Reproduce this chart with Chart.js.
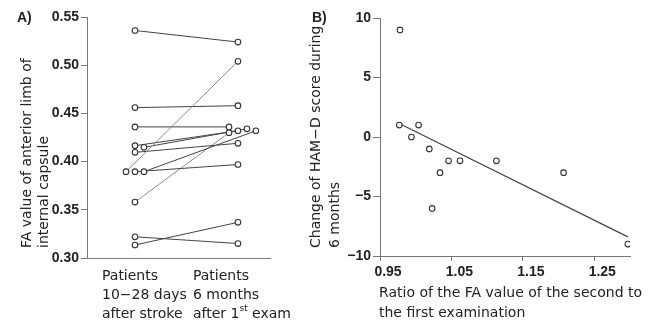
<!DOCTYPE html>
<html>
<head>
<meta charset="utf-8">
<script src="https://cdn.jsdelivr.net/npm/chart.js@4.4.1/dist/chart.umd.min.js"></script>
<style>
  body { margin: 0; background: #fff; }
  #wrap { position: relative; width: 659px; height: 322px; }
  #boxA { position: absolute; left: 0; top: 0; width: 300px; height: 322px; }
  #boxB { position: absolute; left: 300px; top: 0; width: 359px; height: 322px; }
</style>
</head>
<body>
<div id="wrap">
  <div id="boxA"><canvas id="chartA" width="300" height="322"></canvas></div>
  <div id="boxB"><canvas id="chartB" width="359" height="322"></canvas></div>
</div>
<script>
// A) FA value of each patient, first exam and 6 months later
const firstExam  = [0.536, 0.3895, 0.456, 0.436, 0.4165, 0.4148, 0.4096, 0.3895, 0.3895, 0.358, 0.322, 0.3135];
const secondExam = [0.524, 0.504, 0.458, 0.436, 0.432, 0.434, 0.419, 0.397, 0.432, 0.430, 0.315, 0.337];
// circles that overlap are set side by side (in marker widths)
const firstShift  = [0, -1, 0, 0, 0, 1, 0, 0, 1, 0, 0, 0];
const secondShift = [0, 0, 0, -1, 0, 1, 0, 0, 2, -1, 0, 0];
const faTicks = [0.30, 0.35, 0.40, 0.45, 0.50, 0.55];
const groupLabels = [
  ["Patients", "10\u221228 days", "after stroke"],
  ["Patients", "6 months", "after 1st exam"]
];

// B) ratio of FA values vs change of HAM-D
const faRatio    = [0.978, 0.977, 1.004, 0.994, 1.019, 1.046, 1.062, 1.113, 1.034, 1.023, 1.207, 1.297];
const hamdChange = [9, 1, 1, 0, -1, -2, -2, -2, -3, -6, -3, -9];
const ratioTicks = [0.95, 1.05, 1.15, 1.25];
const hamdTicks  = [-10, -5, 0, 5, 10];

const FONT = '"DejaVu Sans", Verdana, sans-serif';
const NUMFONT = '"Liberation Sans", Arial, sans-serif';
const INK = '#222';
const AXIS = '#777';
const JIT = 0.087;
const lightPairs = [1, 9];

// least squares line for panel B
const n = faRatio.length;
const mx = faRatio.reduce((a, b) => a + b, 0) / n;
const my = hamdChange.reduce((a, b) => a + b, 0) / n;
let sxy = 0, sxx = 0;
for (let i = 0; i < n; i++) {
  sxy += (faRatio[i] - mx) * (hamdChange[i] - my);
  sxx += (faRatio[i] - mx) * (faRatio[i] - mx);
}
const slope = sxy / sxx;
const x0 = Math.min(...faRatio), x1 = Math.max(...faRatio);
const fitLine = [x0, x1].map(x => ({x: x, y: my + slope * (x - mx)}));

const dotStyle = {
  pointRadius: 2.8,
  pointBorderWidth: 1.1,
  pointBorderColor: '#333',
  pointBackgroundColor: '#fff',
  showLine: false
};

const pairSets = firstExam.map((v, i) => ({
  type: 'line',
  data: [{x: 1 + firstShift[i] * JIT, y: v}, {x: 2 + secondShift[i] * JIT, y: secondExam[i]}],
  borderColor: lightPairs.includes(i) ? '#8e8e78' : '#444',
  borderWidth: 1,
  pointRadius: 0
}));

const dotsA = Object.assign({
  type: 'scatter',
  order: -1,
  data: firstExam.map((v, i) => ({x: 1 + firstShift[i] * JIT, y: v}))
    .concat(secondExam.map((v, i) => ({x: 2 + secondShift[i] * JIT, y: v})))
}, dotStyle);

const tickFont = {family: NUMFONT, size: 14, weight: 'bold'};

const textA = {
  id: 'textA',
  afterDraw(chart) {
    const ctx = chart.ctx;
    const xs = chart.scales.x;
    ctx.save();
    ctx.fillStyle = INK;
    ctx.textBaseline = 'middle';
    ctx.font = 'bold 14px ' + NUMFONT;
    ctx.fillText('A)', 17, 18);

    ctx.font = '14px ' + FONT;
    groupLabels.forEach((lines, i) => {
      const left = xs.getPixelForValue(i + 1) - (i === 0 ? 33 : 45);
      lines.forEach((line, k) => {
        const y = xs.top + 18 + k * 19;
        if (line.includes('1st')) {
          const pre = line.slice(0, line.indexOf('1st') + 1);
          const post = line.slice(line.indexOf('1st') + 3);
          ctx.fillText(pre, left, y);
          let w = ctx.measureText(pre).width;
          ctx.font = '9px ' + FONT;
          ctx.fillText('st', left + w, y - 5);
          w += ctx.measureText('st').width;
          ctx.font = '14px ' + FONT;
          ctx.fillText(post, left + w, y);
        } else {
          ctx.fillText(line, left, y);
        }
      });
    });

    ctx.translate(27, 248);
    ctx.rotate(-Math.PI / 2);
    ctx.fillText('FA value of anterior limb of', 0, 0);
    ctx.fillText('internal capsule', 0, 17);
    ctx.restore();
  }
};

new Chart(document.getElementById('chartA'), {
  type: 'scatter',
  data: {datasets: [...pairSets, dotsA]},
  options: {
    responsive: false,
    animation: false,
    layout: {padding: {top: 17, right: 30, left: 0, bottom: 0}},
    plugins: {legend: {display: false}, tooltip: {enabled: false}},
    scales: {
      x: {
        type: 'linear',
        min: 0.534,
        max: 2.311,
        ticks: {display: false},
        grid: {display: true, drawOnChartArea: false, drawTicks: false, color: AXIS},
        border: {display: true, color: AXIS, width: 1},
        afterFit(s) { s.height = 64; }
      },
      y: {
        min: 0.30,
        max: 0.55,
        afterBuildTicks(s) { s.ticks = faTicks.map(v => ({value: v})); },
        ticks: {callback: v => v.toFixed(2), font: tickFont, color: INK, padding: 2},
        grid: {drawOnChartArea: false, tickLength: 6, color: AXIS},
        border: {display: true, color: AXIS, width: 1},
        afterFit(s) { s.width = 87; }
      }
    }
  },
  plugins: [textA]
});

const textB = {
  id: 'textB',
  afterDraw(chart) {
    const ctx = chart.ctx;
    const xs = chart.scales.x;
    ctx.save();
    ctx.fillStyle = INK;
    ctx.textBaseline = 'middle';
    ctx.font = 'bold 14px ' + NUMFONT;
    ctx.fillText('B)', 12, 18);

    ctx.font = 'bold 14px ' + NUMFONT;
    ctx.textAlign = 'center';
    ratioTicks.forEach(v => {
      ctx.fillText(v.toFixed(2), xs.getPixelForValue(v) + 8, xs.top + 16);
    });

    ctx.textAlign = 'left';
    ctx.font = '14px ' + FONT;
    ctx.fillText('Ratio of the FA value of the second to', 79, 293);
    ctx.fillText('the first examination', 79, 313);

    ctx.translate(16, 248);
    ctx.rotate(-Math.PI / 2);
    ctx.fillText('Change of HAM\u2212D score during', 0, 0);
    ctx.fillText('6 months', 0, 19);
    ctx.restore();
  }
};

new Chart(document.getElementById('chartB'), {
  type: 'scatter',
  data: {
    datasets: [
      Object.assign({order: -1, data: faRatio.map((x, i) => ({x: x, y: hamdChange[i]}))}, dotStyle),
      {type: 'line', data: fitLine, borderColor: '#444', borderWidth: 1.2, pointRadius: 0}
    ]
  },
  options: {
    responsive: false,
    animation: false,
    layout: {padding: {top: 18, right: 29, left: 0, bottom: 0}},
    plugins: {legend: {display: false}, tooltip: {enabled: false}},
    scales: {
      x: {
        type: 'linear',
        min: 0.95,
        max: 1.30,
        afterBuildTicks(s) { s.ticks = ratioTicks.map(v => ({value: v})); },
        ticks: {display: false},
        grid: {drawOnChartArea: false, tickLength: 5, color: AXIS},
        border: {display: true, color: AXIS, width: 1},
        afterFit(s) { s.height = 66; }
      },
      y: {
        min: -10,
        max: 10,
        afterBuildTicks(s) { s.ticks = hamdTicks.map(v => ({value: v})); },
        ticks: {callback: v => String(v).replace('-', '\u2212'), font: tickFont, color: INK, padding: 2},
        grid: {drawOnChartArea: false, tickLength: 7, color: AXIS},
        border: {display: true, color: AXIS, width: 1},
        afterFit(s) { s.width = 80; }
      }
    }
  },
  plugins: [textB]
});
</script>
</body>
</html>
